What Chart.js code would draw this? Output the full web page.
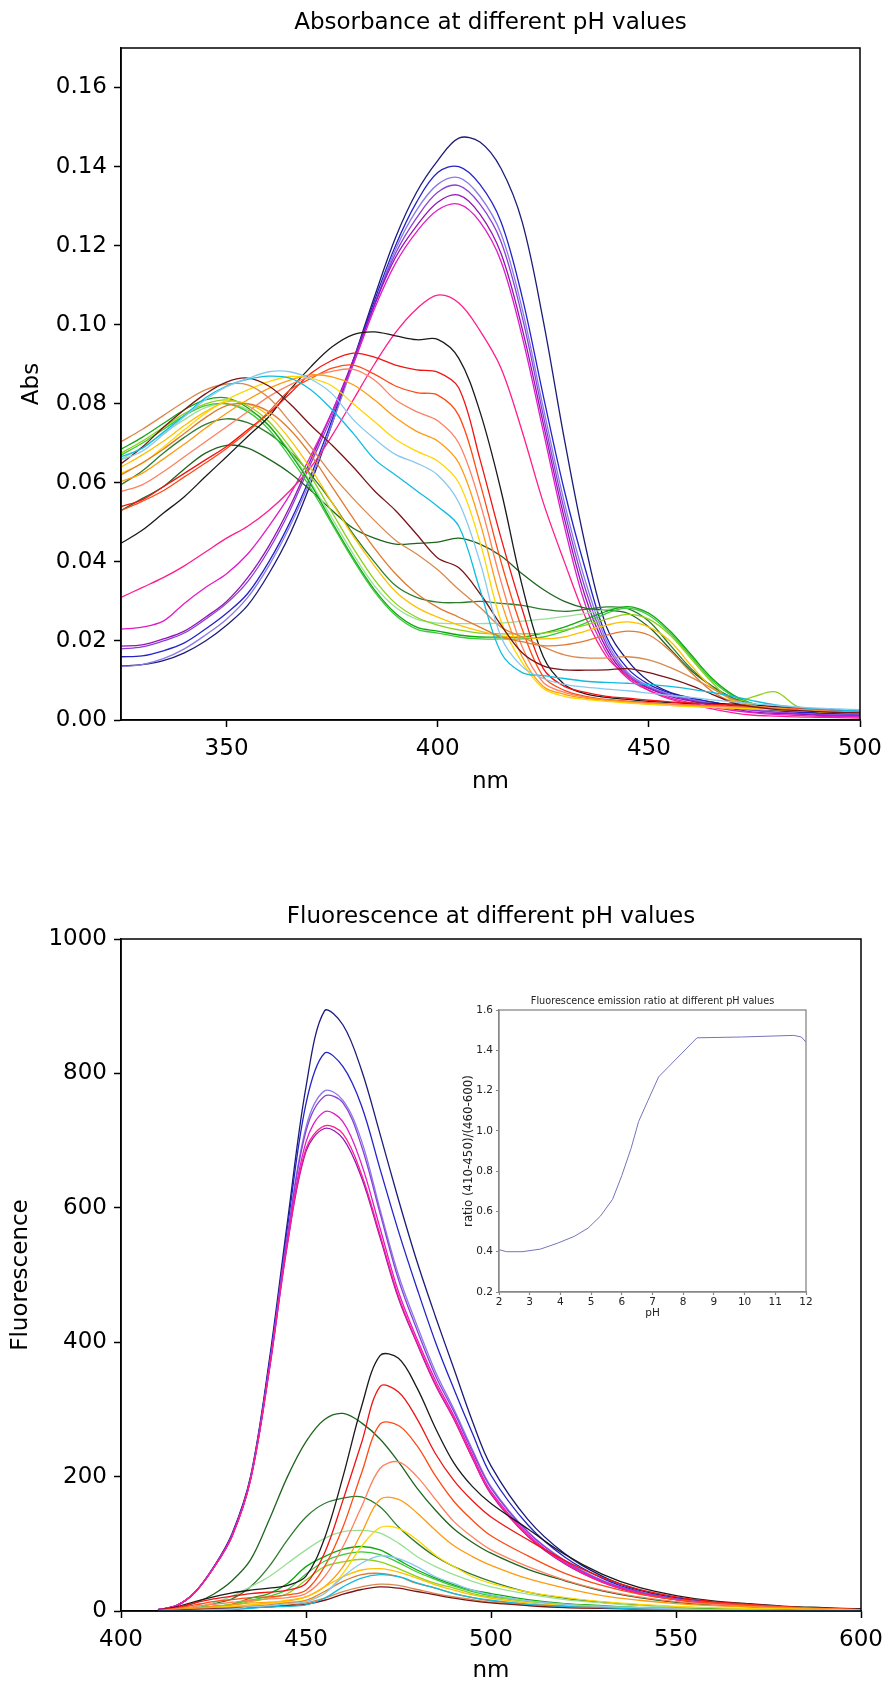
<!DOCTYPE html>
<html>
<head>
<meta charset="utf-8">
<script src="https://cdn.jsdelivr.net/npm/chart.js@4.4.0/dist/chart.umd.min.js"></script>
<style>
  body { margin: 0; background: #fff; width: 889px; height: 1683px; overflow: hidden; position: relative; }
  canvas { position: absolute; }
</style>
</head>
<body>
<canvas id="abs-chart" width="889" height="800" style="left:0;top:0"></canvas>
<canvas id="fl-chart" width="889" height="863" style="left:0;top:820px"></canvas>
<canvas id="ratio-chart" width="380" height="345" style="left:440px;top:980px"></canvas>
<script>
// ABSORBANCE (wavelength nm -> Abs)
const absWl = [325,330,335,340,345,350,355,360,365,370,375,380,385,390,395,400,405,410,415,420,425,430,435,440,445,450,455,460,465,470,475,480,485,490,495,500];
const absNavy = [0.0137,0.014,0.015,0.017,0.02,0.024,0.029,0.037,0.047,0.06,0.075,0.091,0.107,0.122,0.1335,0.1415,0.1472,0.1462,0.1395,0.126,0.101,0.071,0.044,0.0235,0.015,0.0098,0.007,0.0056,0.0045,0.0036,0.003,0.0025,0.002,0.0018,0.0016,0.0015];
const absBlue = [0.016,0.0162,0.0175,0.0195,0.023,0.027,0.032,0.04,0.05,0.062,0.076,0.091,0.106,0.12,0.131,0.1385,0.14,0.1355,0.126,0.107,0.082,0.058,0.038,0.021,0.013,0.009,0.0068,0.0055,0.0045,0.0035,0.0028,0.0024,0.002,0.0017,0.0014,0.0013];
const absMediumPurple = [0.0135,0.014,0.0155,0.018,0.0215,0.0255,0.031,0.039,0.049,0.061,0.075,0.09,0.105,0.119,0.129,0.1355,0.1372,0.1325,0.123,0.104,0.079,0.055,0.035,0.02,0.012,0.0085,0.0065,0.0052,0.0042,0.0032,0.0025,0.002,0.0017,0.0014,0.0013,0.0012];
const absBlueViolet = [0.018,0.0185,0.02,0.022,0.0255,0.0295,0.035,0.043,0.053,0.065,0.077,0.091,0.105,0.118,0.127,0.1335,0.1352,0.1305,0.121,0.102,0.077,0.053,0.033,0.019,0.0115,0.0082,0.0063,0.005,0.004,0.003,0.0024,0.002,0.0017,0.0014,0.0012,0.0012];
const absDarkViolet = [0.0187,0.019,0.0205,0.0225,0.026,0.03,0.036,0.044,0.054,0.066,0.078,0.091,0.105,0.117,0.125,0.131,0.1328,0.128,0.118,0.099,0.075,0.051,0.031,0.018,0.011,0.008,0.006,0.0048,0.0037,0.0028,0.002,0.0017,0.0015,0.0012,0.001,0.001];
const absMagenta = [0.023,0.0235,0.025,0.0295,0.0335,0.037,0.042,0.049,0.057,0.067,0.078,0.09,0.104,0.1155,0.1235,0.129,0.1305,0.126,0.116,0.097,0.073,0.049,0.029,0.017,0.0105,0.0075,0.0056,0.0043,0.0032,0.0024,0.0018,0.0014,0.0012,0.001,0.0009,0.0008];
const absDeepPink = [0.031,0.0335,0.036,0.039,0.0425,0.046,0.049,0.053,0.058,0.064,0.072,0.081,0.09,0.098,0.104,0.1075,0.1055,0.0985,0.089,0.073,0.055,0.04,0.026,0.016,0.011,0.0075,0.0053,0.004,0.0028,0.0018,0.0012,0.001,0.0008,0.0007,0.0006,0.0005];
const absBlack = [0.0447,0.048,0.0523,0.0565,0.0616,0.0666,0.0717,0.0767,0.0835,0.0894,0.0944,0.0975,0.0982,0.0972,0.0962,0.0963,0.0915,0.078,0.058,0.034,0.016,0.009,0.0066,0.0057,0.0052,0.0047,0.0044,0.0042,0.0042,0.004,0.0037,0.0034,0.003,0.0027,0.0024,0.0022];
const absRed = [0.054,0.0557,0.059,0.0624,0.0658,0.0692,0.0734,0.0776,0.0826,0.0877,0.091,0.0928,0.0918,0.0898,0.0886,0.088,0.084,0.066,0.046,0.028,0.013,0.0085,0.007,0.006,0.0055,0.005,0.0046,0.0043,0.004,0.0038,0.0035,0.0032,0.003,0.0027,0.0024,0.0022];
const absOrangeRed = [0.053,0.0553,0.058,0.0615,0.065,0.0687,0.0729,0.078,0.0835,0.0864,0.089,0.0898,0.0875,0.0845,0.0828,0.0822,0.077,0.06,0.04,0.023,0.011,0.0075,0.006,0.0052,0.0048,0.0044,0.004,0.0038,0.0036,0.0034,0.0032,0.003,0.0028,0.0025,0.0022,0.002];
const absSalmon = [0.0578,0.0595,0.0628,0.0666,0.0704,0.0742,0.078,0.0818,0.0848,0.0869,0.0882,0.0887,0.086,0.081,0.078,0.0757,0.07,0.055,0.035,0.0185,0.0095,0.007,0.0058,0.005,0.0046,0.0042,0.004,0.0037,0.0035,0.0033,0.003,0.0028,0.0027,0.0024,0.0022,0.002];
const absDarkOrange = [0.0603,0.0624,0.066,0.0698,0.0738,0.0776,0.081,0.0839,0.086,0.0873,0.0868,0.0848,0.081,0.0765,0.073,0.0706,0.065,0.05,0.03,0.016,0.0085,0.0065,0.0055,0.005,0.0045,0.004,0.0037,0.0035,0.0033,0.003,0.0028,0.0026,0.0025,0.0022,0.002,0.0018];
const absGold = [0.0624,0.0649,0.069,0.0734,0.0776,0.081,0.0835,0.0856,0.0869,0.0864,0.0845,0.08,0.0755,0.071,0.068,0.0655,0.06,0.045,0.025,0.0145,0.008,0.006,0.0052,0.0047,0.0043,0.004,0.0037,0.0034,0.0032,0.003,0.0028,0.0026,0.0024,0.0021,0.0019,0.0018];
const absLightSkyBlue = [0.0658,0.068,0.0722,0.0767,0.081,0.0843,0.0864,0.0881,0.0881,0.0862,0.0825,0.076,0.0712,0.0672,0.065,0.062,0.055,0.04,0.021,0.0135,0.0105,0.009,0.0083,0.0078,0.0074,0.0068,0.0062,0.0057,0.0051,0.0046,0.0041,0.0037,0.0033,0.003,0.0028,0.0026];
const absDeepSkyBlue = [0.0666,0.0687,0.0728,0.077,0.0815,0.0845,0.0862,0.087,0.0865,0.0835,0.0785,0.0725,0.066,0.062,0.058,0.054,0.049,0.033,0.017,0.012,0.0112,0.0105,0.0098,0.0095,0.0093,0.009,0.0085,0.0078,0.007,0.006,0.0048,0.0038,0.0032,0.0028,0.0025,0.0023];
const absDarkRed = [0.0648,0.069,0.074,0.0785,0.0825,0.0855,0.0865,0.0845,0.08,0.0745,0.0695,0.064,0.058,0.053,0.047,0.041,0.0385,0.032,0.024,0.017,0.0137,0.0127,0.0126,0.0127,0.013,0.012,0.0105,0.0087,0.0065,0.0043,0.0033,0.0027,0.0024,0.0021,0.0019,0.0018];
const absPeru = [0.0704,0.0735,0.077,0.0805,0.0835,0.085,0.0848,0.0815,0.0755,0.069,0.062,0.056,0.0505,0.0455,0.042,0.038,0.033,0.0285,0.0235,0.021,0.0185,0.0165,0.0157,0.0157,0.016,0.0152,0.0133,0.0108,0.008,0.0052,0.0036,0.0029,0.0025,0.0022,0.002,0.0018];
const absOrange2 = [0.062,0.065,0.0685,0.0725,0.0765,0.0795,0.08,0.078,0.0735,0.067,0.059,0.051,0.0435,0.037,0.032,0.0285,0.026,0.0235,0.021,0.0198,0.0188,0.019,0.02,0.0215,0.0225,0.0215,0.0175,0.012,0.0072,0.0045,0.0033,0.0028,0.0025,0.0022,0.002,0.0018];
const absYellow2 = [0.064,0.067,0.0705,0.0745,0.078,0.0805,0.08,0.077,0.071,0.0635,0.055,0.0465,0.039,0.0325,0.0285,0.026,0.024,0.0225,0.0213,0.021,0.0205,0.021,0.0225,0.024,0.0248,0.0235,0.02,0.0138,0.0082,0.005,0.0036,0.003,0.0025,0.0022,0.002,0.0018];
const absYellowGreen = [0.0675,0.0705,0.074,0.0775,0.08,0.081,0.0795,0.0755,0.069,0.0615,0.0525,0.0435,0.0355,0.0295,0.026,0.024,0.0228,0.022,0.0218,0.0218,0.022,0.0228,0.024,0.0255,0.0267,0.0255,0.0215,0.0155,0.0095,0.0048,0.006,0.0071,0.0035,0.0022,0.002,0.0018];
const absLimeGreen = [0.067,0.07,0.0735,0.077,0.0795,0.08,0.078,0.0735,0.0665,0.0585,0.0495,0.0405,0.0325,0.0265,0.023,0.022,0.021,0.0205,0.0205,0.0205,0.021,0.0225,0.0245,0.027,0.0283,0.0265,0.022,0.016,0.01,0.006,0.004,0.003,0.0025,0.0022,0.002,0.0018];
const absGreen = [0.0685,0.0715,0.075,0.0785,0.081,0.0815,0.079,0.0745,0.0675,0.0595,0.05,0.041,0.033,0.027,0.0235,0.0225,0.0215,0.021,0.021,0.021,0.022,0.0235,0.0255,0.0275,0.0287,0.027,0.0225,0.0165,0.0105,0.0063,0.004,0.003,0.0025,0.0022,0.002,0.0018];
const absLightGreen = [0.066,0.069,0.0725,0.076,0.079,0.08,0.0785,0.0745,0.068,0.06,0.051,0.042,0.034,0.0285,0.0255,0.0245,0.0244,0.0244,0.0245,0.025,0.0255,0.0262,0.027,0.028,0.0283,0.027,0.0225,0.0165,0.0105,0.0063,0.004,0.003,0.0025,0.0022,0.002,0.0018];
const absDarkGreen2 = [0.0595,0.063,0.0675,0.0715,0.0748,0.0762,0.0752,0.0725,0.068,0.062,0.055,0.047,0.04,0.034,0.031,0.0298,0.0297,0.03,0.0295,0.029,0.028,0.0275,0.028,0.0286,0.0282,0.025,0.019,0.013,0.0085,0.0055,0.004,0.003,0.0025,0.0022,0.002,0.0018];
const absDarkGreen1 = [0.053,0.056,0.059,0.0635,0.0675,0.0695,0.0688,0.066,0.0625,0.058,0.053,0.0485,0.046,0.0445,0.0447,0.045,0.046,0.0445,0.0415,0.037,0.033,0.03,0.0283,0.0278,0.027,0.0235,0.018,0.0125,0.0085,0.0055,0.004,0.003,0.0025,0.0022,0.002,0.0018];
const absXTicks = [350, 400, 450, 500];
const absYTicks = [0, 0.02, 0.04, 0.06, 0.08, 0.10, 0.12, 0.14, 0.16];

// FLUORESCENCE (wavelength nm -> intensity)
const flWl = [410,415,420,425,430,435,440,445,450,455,460,465,470,475,480,485,490,495,500,510,520,530,540,550,560,570,580,590,600];
const flNavy = [2,8,28,65,115,200,370,580,780,893,872,805,710,612,520,438,360,282,216,136,85,52,31,20,13,9,6,4,3];
const flBlue = [2,8,28,65,113,198,365,570,755,830,810,752,658,565,480,400,330,264,202,128,80,49,29,19,12,8,5,4,2];
const flMediumPurple = [2,8,28,64,112,196,360,560,720,774,760,700,598,500,425,356,300,240,185,118,75,46,28,18,12,8,5,3,2];
const flBlueViolet = [2,8,28,64,112,196,360,558,714,766,756,692,592,493,418,350,296,237,183,117,74,45,28,18,11,8,5,3,2];
const flDarkViolet = [2,8,28,64,111,195,355,546,684,718,703,645,556,465,398,336,285,227,174,111,70,43,26,17,11,7,5,3,2];
const flMagenta = [2,8,28,64,112,196,358,552,698,743,728,665,570,475,405,343,290,232,178,114,72,44,27,17,11,7,5,3,2];
const flDeepPink = [2,8,28,64,111,195,356,548,688,722,710,650,560,468,400,338,286,228,175,112,71,43,27,17,11,7,5,3,2];
const flBlack = [1,6,14,21,27,31,34,38,52,108,200,304,380,376,332,272,220,185,160,122,84,55,35,23,15,11,7,5,3];
const flRed = [1,5,12,18,22,26,28,31,41,86,165,250,334,326,286,234,194,164,140,106,75,50,32,21,14,10,6,4,2];
const flOrangeRed = [1,4,9,14,17,20,21,24,31,66,125,205,278,276,246,201,163,135,112,82,56,38,25,17,12,9,6,4,2];
const flSalmon = [0,3,7,10,13,16,18,20,26,51,96,155,212,222,200,166,133,110,91,66,46,31,21,14,10,7,5,3,2];
const flDarkOrange = [0,2,4,7,9,12,13,15,21,36,66,116,166,166,146,120,97,81,68,48,34,23,16,11,8,6,4,3,1];
const flGold = [0,1,3,5,7,9,11,13,16,26,56,96,124,123,106,83,66,51,41,28,20,14,10,7,5,4,3,2,1];
const flLightSkyBlue = [0,0,1,2,3,6,8,11,14,26,51,71,82,78,66,51,41,31,24,15,10,7,5,3,2,2,1,1,0];
const flDeepSkyBlue = [0,0,1,1,2,4,6,7,9,19,36,49,54,51,42,34,26,20,16,10,7,5,3,2,2,1,1,1,0];
const flDarkRed = [0,1,2,3,4,5,6,8,10,16,25,32,36,34,29,24,19,15,12,8,5,4,3,2,1,1,1,0,0];
const flPeru = [0,1,2,3,4,5,7,9,12,19,29,36,40,38,32,26,21,17,13,9,6,4,3,2,1,1,1,0,0];
const flOrange2 = [0,1,3,4,5,7,9,12,16,29,44,54,56,51,41,34,26,20,15,10,7,5,3,2,2,1,1,1,0];
const flYellow2 = [0,1,3,5,6,9,12,16,21,36,51,61,63,58,49,39,31,24,19,12,8,6,4,3,2,1,1,1,0];
const flYellowGreen = [0,2,4,6,9,14,19,26,46,66,73,77,73,63,51,41,34,26,21,14,10,7,5,3,2,2,1,1,0];
const flLimeGreen = [0,2,4,7,10,16,22,32,55,74,84,88,84,72,58,47,37,29,23,15,10,7,5,3,2,2,1,1,0];
const flGreen = [0,2,4,7,10,19,26,41,66,81,92,96,91,76,61,49,39,31,26,17,11,8,5,4,3,2,1,1,0];
const flLightGreen = [0,2,5,12,22,36,51,71,91,108,118,120,116,101,81,66,54,44,36,25,17,12,8,6,4,3,2,1,1];
const flDarkGreen2 = [0,2,5,11,18,36,66,106,140,160,168,170,155,125,101,81,66,54,44,28,19,13,9,6,4,3,2,1,1];
const flDarkGreen1 = [1,4,12,25,45,76,135,200,252,285,294,280,256,222,183,150,122,102,86,62,45,30,20,13,9,6,4,2,1];
const flXTicks = [400, 450, 500, 550, 600];
const flYTicks = [0, 200, 400, 600, 800, 1000];

// INSET (pH -> emission ratio)
const ratioPh = [2.0,2.25,2.75,3.35,3.9,4.45,4.9,5.3,5.7,6.0,6.3,6.55,6.85,7.2,8.45,9.9,11.6,11.85,12.0];
const ratioValues = [0.41,0.40,0.40,0.413,0.442,0.476,0.517,0.576,0.66,0.778,0.912,1.047,1.15,1.268,1.462,1.466,1.474,1.466,1.44];
const ratioXTicks = [2,3,4,5,6,7,8,9,10,11,12];
const ratioYTicks = [0.2,0.4,0.6,0.8,1.0,1.2,1.4,1.6];

// same colour for the same pH in both panels
const seriesColors = ['#88c8ee','#10bce0','#7a1416','#d9894e','#e07a30','#ffc000','#ffd700','#ff9a10','#ff8060','#ff4a14','#f01414','#1a1a1a',
  '#8ed01a','#3cc83c','#10a810','#98e098','#2e7d2e','#1e641e','#ff1d8e','#e01cc8','#9414b4','#8a3fd6','#8a7ae6','#2323c8','#1b1b7a'];
const absSeries = [absLightSkyBlue, absDeepSkyBlue, absDarkRed, absPeru, absOrange2, absYellow2, absGold, absDarkOrange, absSalmon, absOrangeRed, absRed, absBlack,
  absYellowGreen, absLimeGreen, absGreen, absLightGreen, absDarkGreen2, absDarkGreen1, absDeepPink, absMagenta, absDarkViolet, absBlueViolet, absMediumPurple, absBlue, absNavy];
const flSeries = [flLightSkyBlue, flDeepSkyBlue, flDarkRed, flPeru, flOrange2, flYellow2, flGold, flDarkOrange, flSalmon, flOrangeRed, flRed, flBlack,
  flYellowGreen, flLimeGreen, flGreen, flLightGreen, flDarkGreen2, flDarkGreen1, flDeepPink, flMagenta, flDarkViolet, flBlueViolet, flMediumPurple, flBlue, flNavy];

Chart.defaults.font.family = "'DejaVu Sans', sans-serif";
Chart.defaults.color = '#000';

// box around the plot area (matplotlib spines) + title centred over the axes
const framePlugin = {
    id: 'frame',
    afterDraw: function (chart, args, opts) {
        const a = chart.chartArea;
        const ctx = chart.ctx;
        ctx.save();
        ctx.strokeStyle = opts.color;
        ctx.lineWidth = opts.width;
        ctx.strokeRect(a.left, a.top, a.right - a.left, a.bottom - a.top);
        ctx.fillStyle = opts.titleColor;
        ctx.font = opts.titleSize + "px 'DejaVu Sans', sans-serif";
        ctx.textAlign = 'center';
        ctx.textBaseline = 'middle';
        ctx.fillText(opts.title, (a.left + a.right) / 2, a.top - opts.titleOffset);
        ctx.restore();
    }
};

function toPoints(xs, ys) {
    return xs.map(function (x, i) { return { x: x, y: ys[i] }; });
}

function fixSize(size, horizontal) {
    return function (s) {
        if (horizontal) s.height = size; else s.width = size;
        s.paddingLeft = 0; s.paddingRight = 0; s.paddingTop = 0; s.paddingBottom = 0;
    };
}

function setTicks(values) {
    return function (s) { s.ticks = values.map(function (v) { return { value: v }; }); };
}

function axis(o) {
    return {
        type: 'linear',
        min: o.min,
        max: o.max,
        afterBuildTicks: setTicks(o.ticks),
        afterFit: fixSize(o.size, o.horizontal),
        border: { display: true, color: o.color, width: o.lineWidth },
        grid: { display: true, drawOnChartArea: false, drawTicks: true, tickLength: o.tickLength, tickColor: o.color, tickWidth: o.lineWidth },
        ticks: { padding: o.tickPad, color: o.textColor, font: { size: o.fontSize }, maxRotation: 0, autoSkip: false, callback: o.format },
        title: { display: true, text: o.title, color: o.textColor, font: { size: o.titleSize || o.fontSize, lineHeight: o.titleLineHeight }, padding: o.titlePad }
    };
}

function spectrumChart(id, xs, series, cfg) {
    const datasets = series.map(function (ys, i) {
        return {
            data: toPoints(xs, ys),
            borderColor: seriesColors[i],
            borderWidth: 1.3,
            pointRadius: 0,
            fill: false,
            tension: 0.35
        };
    });
    return new Chart(document.getElementById(id).getContext('2d'), {
        type: 'line',
        data: { datasets: datasets },
        plugins: [framePlugin],
        options: {
            responsive: false,
            animation: false,
            devicePixelRatio: 1,
            layout: { padding: { left: 0, right: cfg.padRight, top: cfg.padTop, bottom: 0 } },
            plugins: {
                legend: { display: false },
                tooltip: { enabled: false },
                title: { display: false },
                frame: { color: '#000', width: 1.5, title: cfg.title, titleSize: 23, titleColor: '#000', titleOffset: cfg.titleOffset }
            },
            scales: {
                x: axis({ min: cfg.xMin, max: cfg.xMax, ticks: cfg.xTicks, size: cfg.xSize, horizontal: true, color: '#000', textColor: '#000', lineWidth: 1.5,
                    tickLength: 7, tickPad: 8, fontSize: 23, title: 'nm', titleLineHeight: 1, titlePad: cfg.xTitlePad, format: function (v) { return String(v); } }),
                y: axis({ min: cfg.yMin, max: cfg.yMax, ticks: cfg.yTicks, size: 121, horizontal: false, color: '#000', textColor: '#000', lineWidth: 1.5,
                    tickLength: 7, tickPad: 7, fontSize: 23, title: cfg.yTitle, titleLineHeight: 1.2, titlePad: cfg.yTitlePad, format: cfg.yFormat })
            }
        }
    });
}

// TOP: absorbance
spectrumChart('abs-chart', absWl, absSeries, {
    title: 'Absorbance at different pH values', titleOffset: 24.5,
    padTop: 48, padRight: 29,
    xMin: 325, xMax: 500, xTicks: absXTicks, xSize: 80, xTitlePad: { top: 0, bottom: 6.5 },
    yMin: 0, yMax: 0.17, yTicks: absYTicks, yTitle: 'Abs', yTitlePad: { top: 18.2, bottom: 0 },
    yFormat: function (v) { return v.toFixed(2); }
});

// BOTTOM: fluorescence
spectrumChart('fl-chart', flWl, flSeries, {
    title: 'Fluorescence at different pH values', titleOffset: 22,
    padTop: 119, padRight: 28,
    xMin: 400, xMax: 600, xTicks: flXTicks, xSize: 72, xTitlePad: { top: 0, bottom: 0 },
    yMin: 0, yMax: 1000, yTicks: flYTicks, yTitle: 'Fluorescence', yTitlePad: { top: 7.7, bottom: 0 },
    yFormat: function (v) { return String(v); }
});

// INSET: emission ratio
new Chart(document.getElementById('ratio-chart').getContext('2d'), {
    type: 'line',
    data: {
        datasets: [{
            data: toPoints(ratioPh, ratioValues),
            borderColor: '#7474bc',
            borderWidth: 1,
            pointRadius: 0,
            fill: false,
            tension: 0
        }]
    },
    plugins: [framePlugin],
    options: {
        responsive: false,
        animation: false,
        devicePixelRatio: 1,
        layout: { padding: { left: 0, right: 14, top: 30, bottom: 0 } },
        plugins: {
            legend: { display: false },
            tooltip: { enabled: false },
            title: { display: false },
            frame: { color: '#888', width: 1.3, title: 'Fluorescence emission ratio at different pH values', titleSize: 9.7, titleColor: '#222', titleOffset: 9 }
        },
        scales: {
            x: axis({ min: 2, max: 12, ticks: ratioXTicks, size: 33, horizontal: true, color: '#888', textColor: '#222', lineWidth: 1.2,
                tickLength: 3, tickPad: 1, fontSize: 10.5, title: 'pH', titleLineHeight: 1, titlePad: { top: 0, bottom: 6 }, format: function (v) { return String(v); } }),
            y: axis({ min: 0.2, max: 1.6, ticks: ratioYTicks, size: 59, horizontal: false, color: '#888', textColor: '#222', lineWidth: 1.2,
                tickLength: 3, tickPad: 3, fontSize: 10.5, titleSize: 11.8, title: 'ratio (410-450)/(460-600)', titleLineHeight: 1.2, titlePad: { top: 22, bottom: 0 },
                format: function (v) { return v.toFixed(1); } })
        }
    }
});
</script>
</body>
</html>
